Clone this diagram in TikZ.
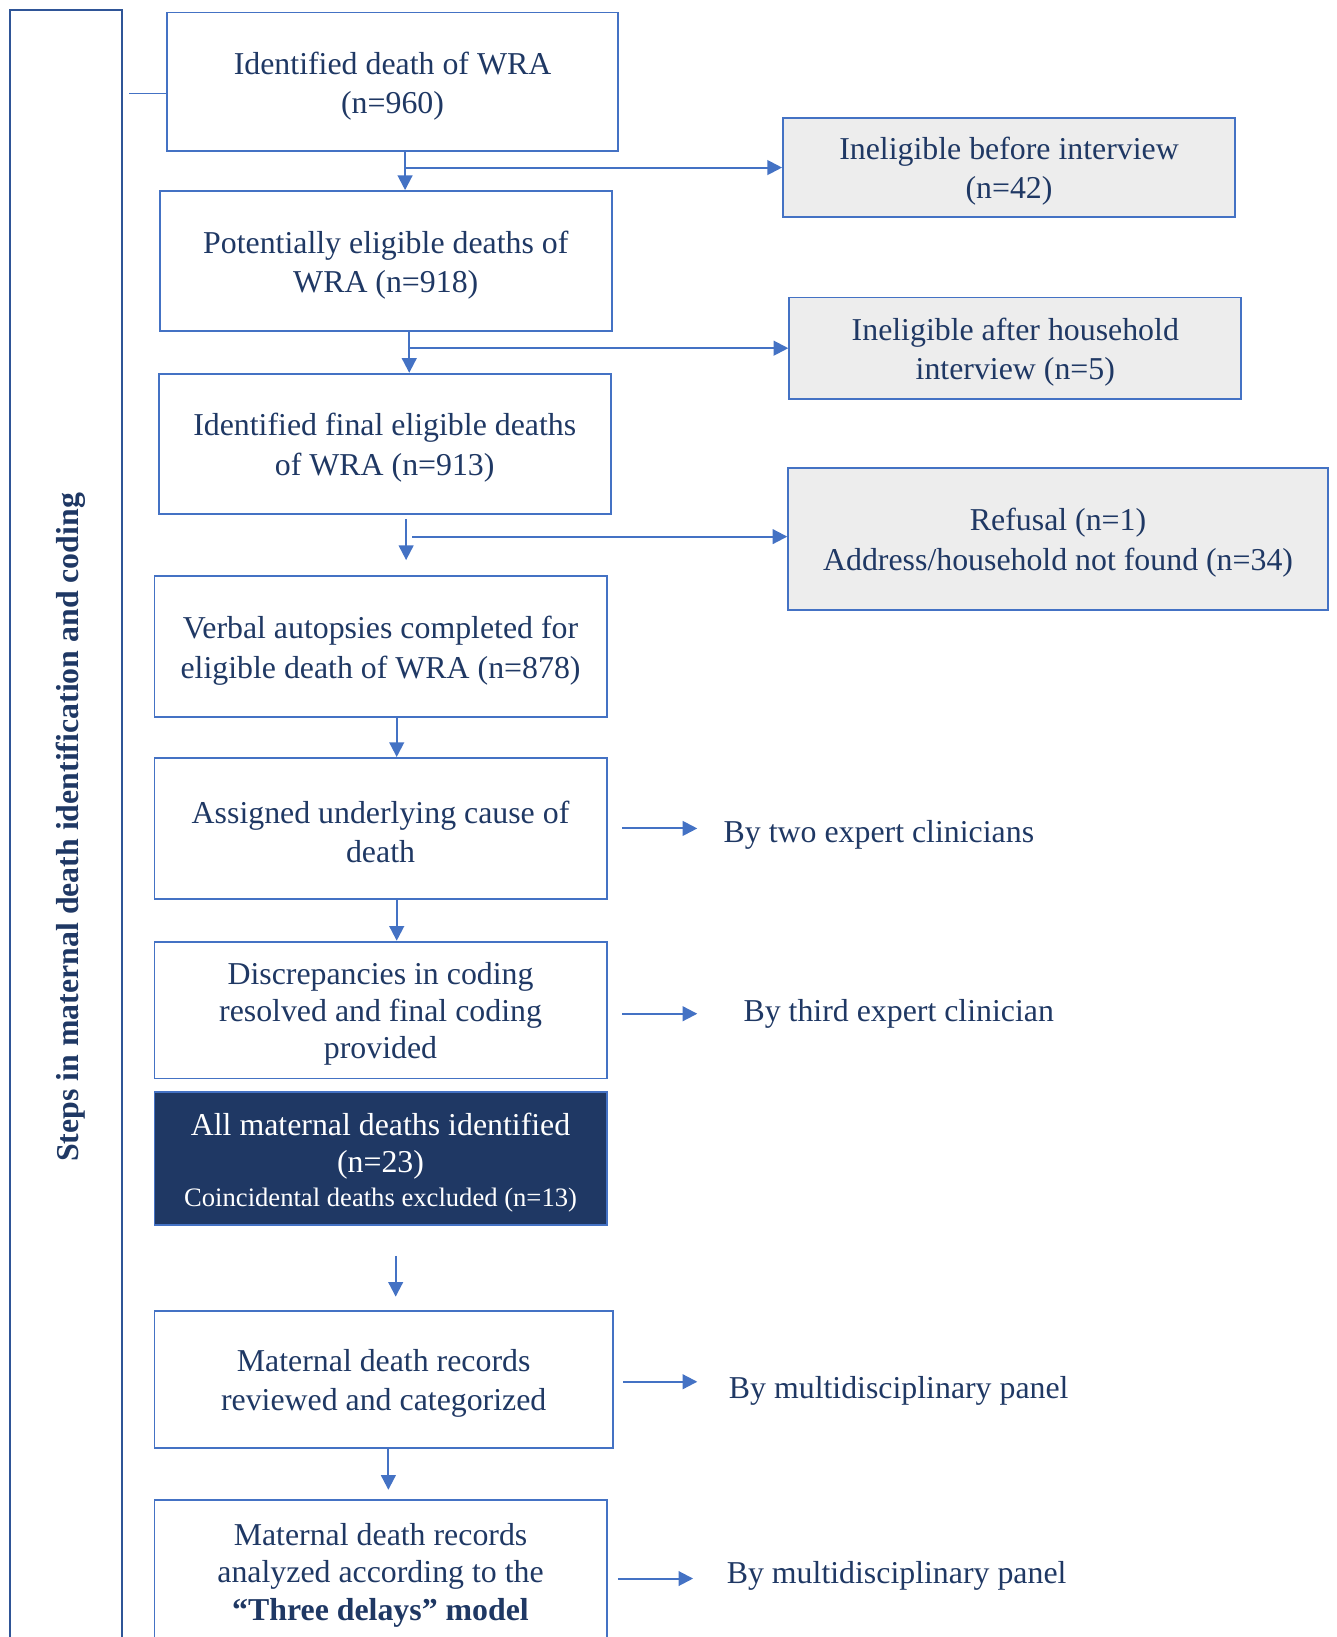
\documentclass[tikz,border=0pt]{standalone}
\usepackage{fontspec}
\usepackage{graphicx}
\setmainfont{Liberation Serif}
\usetikzlibrary{arrows.meta,calc}

\definecolor{boxblue}{HTML}{4472C4}
\definecolor{barblue}{HTML}{2F5597}
\definecolor{navy}{HTML}{1F3864}
\definecolor{paleground}{HTML}{EDEDED}

% a tall strut on the first line lowers the text block a little inside its box
\newcommand\boxstrut{\rule{0pt}{29pt}}

\begin{document}
\begin{tikzpicture}[x=1pt,y=-1pt,
  box/.style={draw=boxblue, line width=1.8pt, fill=white, text=navy, align=center,
    inner sep=0pt, font=\fontsize{30.5}{37.5}\selectfont},
  offbox/.style={box, fill=paleground},
  darkbox/.style={box, fill=navy, text=white},
  arr/.style={draw=boxblue, line width=2pt, -{Triangle[length=14pt,width=14pt]}},
  sidenote/.style={anchor=west, inner sep=0pt, text=navy, font=\fontsize{30.5}{37.5}\selectfont},
  link/.style={draw=boxblue, line width=1pt}
]
\useasboundingbox (0,0) rectangle (1280,1568);
\clip (0,0) rectangle (1280,1568);

% side bar with the vertical title
\node[draw=barblue, line width=2pt, minimum width=107pt, minimum height=1565pt, inner sep=0pt] (bar) at (63.5,792.5) {};
\node[rotate=90, inner sep=0pt, text=navy, font=\fontsize{30.5}{36}\selectfont\bfseries] (title)
  at ([xshift=4pt]bar.center) {Steps in maternal death identification and coding};

% main column
\node[box, minimum width=432pt, minimum height=133pt] (b1) at (376,78.5)
  {\boxstrut Identified death of WRA\\(n=960)};
\node[box, minimum width=433pt, minimum height=134pt] (b2) at (369.5,250)
  {\boxstrut Potentially eligible deaths of\\WRA (n=918)};
\node[box, minimum width=433pt, minimum height=134pt] (b3) at (368.5,425)
  {\boxstrut Identified final eligible deaths\\of WRA (n=913)};
\node[box, minimum width=433pt, minimum height=135pt] (b4) at (364.5,619.5)
  {\boxstrut Verbal autopsies completed for\\eligible death of WRA (n=878)};
\node[box, minimum width=433pt, minimum height=135pt] (b5) at (364.5,793.5)
  {\boxstrut Assigned underlying cause of\\death};
\node[box, minimum width=433pt, minimum height=131pt, font=\fontsize{30.5}{35.5}\selectfont] (b6) at (364.5,967.5)
  {\boxstrut Discrepancies in coding\\resolved and final coding\\provided};
\node[darkbox, minimum width=433pt, minimum height=127pt, font=\fontsize{30.5}{36}\selectfont] (b7) at (364.5,1109.5)
  {\boxstrut All maternal deaths identified\\(n=23)\\[-4pt]{\fontsize{25.5}{30}\selectfont Coincidental deaths excluded (n=13)}};
\node[box, minimum width=439pt, minimum height=131pt] (b8) at (367.5,1321.5)
  {\boxstrut Maternal death records\\reviewed and categorized};
\node[box, minimum width=433pt, minimum height=136pt, font=\fontsize{30.5}{36}\selectfont] (b9) at (364.5,1505)
  {\boxstrut Maternal death records\\analyzed according to the\\\textbf{“Three delays” model}};

% exclusions on the right
\node[offbox, minimum width=433pt, minimum height=95pt] (r1) at (966.5,160.5)
  {\boxstrut Ineligible before interview\\(n=42)};
\node[offbox, minimum width=433pt, minimum height=97pt] (r2) at (972.5,333.5)
  {\boxstrut Ineligible after household\\interview (n=5)};
\node[offbox, minimum width=517pt, minimum height=136pt] (r3) at (1013.5,516)
  {\boxstrut Refusal (n=1)\\Address/household not found (n=34)};

% who did each step
\node[sidenote] (l1) at (693,799.5) {By two expert clinicians};
\node[sidenote] (l2) at (712,971.5) {By third expert clinician};
\node[sidenote] (l3) at (698,1332.5) {By multidisciplinary panel};
\node[sidenote] (l4) at (696,1509.5) {By multidisciplinary panel};

% tie from the side bar to the first box
\coordinate (tie) at (124,90);
\draw[link] (tie) -- (tie -| b1.west);

% vertical flow
\draw[arr] ([xshift=12pt]b1.south) -- ([xshift=12pt]b1.south |- b2.north);
\draw[arr] ([xshift=12pt]b1.south |- r1.west) -- (r1.west);

\draw[arr] ([xshift=22.5pt]b2.south) -- ([xshift=22.5pt]b2.south |- b3.north);
\draw[arr] ([xshift=22.5pt]b2.south |- r2.west) -- (r2.west);

\coordinate (d3a) at (389,497);
\coordinate (d3b) at (389,536.5);
\coordinate (h3) at (395,514);
\draw[arr] (d3a) -- (d3b);
\draw[arr] (h3) -- (h3 -| r3.west);

\draw[arr] ([xshift=15.5pt]b4.south) -- ([xshift=15.5pt]b4.south |- b5.north);
\draw[arr] ([xshift=15.5pt]b5.south) -- ([xshift=15.5pt]b5.south |- b6.north);

\coordinate (d6a) at (379,1203);
\coordinate (d6b) at (379,1242);
\draw[arr] (d6a) -- (d6b);

\coordinate (d7b) at (372,1427);
\draw[arr] ([xshift=4.5pt]b8.south) -- ([xshift=4.5pt]b8.south |- d7b);

% side arrows
\draw[arr] ([xshift=14pt]b5.east) -- ++(72,0);
\draw[arr] ([xshift=14pt,yshift=-3.5pt]b6.east) -- ++(72,0);
\draw[arr] ([xshift=9pt,yshift=-2pt]b8.east) -- ++(71,0);
\draw[arr] ([xshift=10pt,yshift=-7pt]b9.east) -- ++(72,0);
\end{tikzpicture}
\end{document}
